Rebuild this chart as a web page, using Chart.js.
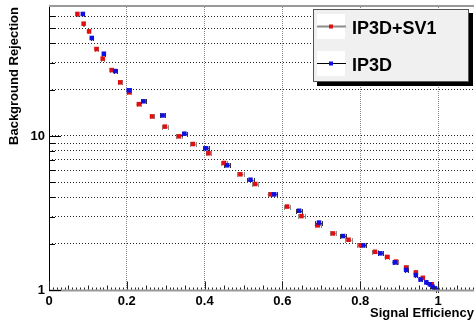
<!DOCTYPE html>
<html>
<head>
<meta charset="utf-8">
<script src="https://cdn.jsdelivr.net/npm/chart.js@4.4.1/dist/chart.umd.min.js"></script>
<style>
  html, body { margin: 0; padding: 0; background: #fff; }
</style>
</head>
<body>
<canvas id="roc" width="474" height="320"></canvas>
<script>
// IP3D+SV1 : efficacité signal / réjection du bruit de fond
const sv1Eff = [0.073, 0.089, 0.103, 0.122, 0.138, 0.161, 0.183, 0.206, 0.231, 0.265, 0.298, 0.334,
                0.370, 0.410, 0.450, 0.492, 0.530, 0.570, 0.612, 0.649, 0.691, 0.730, 0.770, 0.801,
                0.838, 0.869, 0.892, 0.918, 0.943, 0.961, 0.984, 0.998];
const sv1Rej = [62, 53.6, 47.8, 36.7, 31.8, 26.8, 22.3, 19.2, 16.1, 13.4, 11.5, 9.95,
                8.87, 7.72, 6.68, 5.64, 4.88, 4.18, 3.48, 3.02, 2.63, 2.33, 2.12, 1.95,
                1.77, 1.64, 1.53, 1.40, 1.30, 1.20, 1.09, 1.0];
const sv1EffErr = [0.002, 0.002, 0.003, 0.003, 0.004, 0.004, 0.005, 0.005, 0.006, 0.006, 0.007, 0.007,
                   0.007, 0.007, 0.008, 0.008, 0.008, 0.008, 0.008, 0.008, 0.008, 0.008, 0.008, 0.008,
                   0.007, 0.006, 0.005, 0.004, 0.003, 0.003, 0.002, 0.002];

// IP3D seul
const ip3dEff = [0.087, 0.110, 0.141, 0.170, 0.205, 0.243, 0.292, 0.348, 0.404, 0.458, 0.518, 0.579,
                 0.643, 0.694, 0.756, 0.808, 0.852, 0.889, 0.918, 0.943, 0.955, 0.970, 0.979, 0.986,
                 0.992, 0.998];
const ip3dRej = [62, 43.3, 34.2, 26.4, 19.8, 16.8, 13.6, 10.35, 8.32, 6.45, 5.20, 4.18,
                 3.27, 2.74, 2.24, 1.95, 1.73, 1.51, 1.35, 1.25, 1.17, 1.12, 1.09, 1.05,
                 1.025, 1.0];
const ip3dEffErr = [0.002, 0.003, 0.004, 0.004, 0.005, 0.006, 0.006, 0.007, 0.007, 0.008, 0.008, 0.008,
                    0.008, 0.009, 0.008, 0.008, 0.007, 0.006, 0.004, 0.003, 0.003, 0.002, 0.002, 0.002,
                    0.002, 0.002];

// Graduations
const xTickValues = [0, 0.2, 0.4, 0.6, 0.8, 1];
const yTickValues = [1, 2, 3, 4, 5, 6, 7, 8, 9, 10, 20, 30, 40, 50, 60];
const yLabelled = [1, 10];
const xMinorStep = 0.01;

const FONT = 'Liberation Sans, Arial, sans-serif';

function points(xs, ys) {
    return xs.map((x, i) => ({ x: x, y: ys[i] }));
}

// Pas de marge automatique autour des axes : le cadre est fixé à la main
function noPadding(scale) {
    scale.paddingLeft = 0;
    scale.paddingRight = 0;
    scale.paddingTop = 0;
    scale.paddingBottom = 0;
}

// Cadre façon ROOT : barres d'erreur, graduations intérieures, légende avec ombre
const rootStyle = {
    id: 'rootStyle',
    beforeDatasetsDraw(chart) {
        const { ctx, scales: { x, y } } = chart;
        ctx.save();
        chart.data.datasets.forEach(ds => {
            ctx.strokeStyle = ds.errColor;
            ctx.lineWidth = 1;
            ds.data.forEach((p, i) => {
                const err = ds.xErr[i];
                const x1 = x.getPixelForValue(p.x - err);
                const x2 = x.getPixelForValue(p.x + err);
                const py = Math.round(y.getPixelForValue(p.y)) + 0.5;
                ctx.beginPath();
                ctx.moveTo(x1, py); ctx.lineTo(x2, py);
                ctx.moveTo(Math.round(x1) + 0.5, py - 2.5); ctx.lineTo(Math.round(x1) + 0.5, py + 2.5);
                ctx.moveTo(Math.round(x2) + 0.5, py - 2.5); ctx.lineTo(Math.round(x2) + 0.5, py + 2.5);
                ctx.stroke();
            });
        });
        ctx.restore();
    },
    afterDraw(chart) {
        const { ctx, chartArea: a, scales: { x, y } } = chart;
        ctx.save();

        // axes
        ctx.strokeStyle = '#999';
        ctx.lineWidth = 2;
        ctx.beginPath();
        ctx.moveTo(a.left, a.top - 1); ctx.lineTo(a.right, a.top - 1);
        ctx.moveTo(a.left, a.bottom + 0.5); ctx.lineTo(a.right, a.bottom + 0.5);
        ctx.stroke();
        ctx.strokeStyle = '#000';
        ctx.lineWidth = 1;
        ctx.beginPath();
        ctx.moveTo(a.left + 0.5, a.top); ctx.lineTo(a.left + 0.5, a.bottom);
        ctx.stroke();

        // graduations Y (intérieures)
        ctx.beginPath();
        yTickValues.forEach(v => {
            const py = Math.round(y.getPixelForValue(v)) + 0.5;
            const len = yLabelled.includes(v) ? 12 : 6;
            ctx.moveTo(a.left, py); ctx.lineTo(a.left + len, py);
        });
        ctx.stroke();

        // graduations X (intérieures)
        ctx.strokeStyle = '#222';
        ctx.beginPath();
        const n = Math.floor(x.max / xMinorStep);
        for (let k = 0; k <= n; k++) {
            const px = Math.round(x.getPixelForValue(k * xMinorStep)) + 0.5;
            const len = k % 20 === 0 ? 8 : (k % 5 === 0 ? 4 : 2);
            ctx.moveTo(px, a.bottom - 0.5); ctx.lineTo(px, a.bottom - 0.5 - len);
        }
        ctx.stroke();

        // légende
        const lx = 313, ly = 9, lw = 156, lh = 73;
        ctx.fillStyle = '#000';
        ctx.fillRect(lx + 4, ly + 4, lw, lh);
        ctx.fillStyle = '#f0f0f0';
        ctx.fillRect(lx, ly, lw, lh);
        ctx.strokeStyle = '#555';
        ctx.lineWidth = 1;
        ctx.strokeRect(lx + 0.5, ly + 0.5, lw - 1, lh - 1);

        const rows = [17, 54];
        chart.data.datasets.forEach((ds, i) => {
            const top = ly + rows[i] - 12;
            ctx.fillStyle = '#fff';
            ctx.fillRect(lx + 4, top, 28, 25);
            const cy = top + 12.5;
            ctx.strokeStyle = ds.legendLine;
            ctx.lineWidth = ds.legendLineWidth;
            ctx.beginPath();
            ctx.moveTo(lx + 4, cy); ctx.lineTo(lx + 33, cy);
            ctx.stroke();
            ctx.fillStyle = ds.backgroundColor;
            ctx.fillRect(lx + 16, cy - 2, 4, 4);
            ctx.fillStyle = '#000';
            ctx.font = 'bold 18px ' + FONT;
            ctx.textBaseline = 'middle';
            ctx.textAlign = 'left';
            ctx.fillText(ds.label, lx + 39, cy + 3);
        });

        ctx.restore();
    }
};

new Chart(document.getElementById('roc'), {
    type: 'scatter',
    data: {
        datasets: [{
            label: 'IP3D+SV1',
            data: points(sv1Eff, sv1Rej),
            xErr: sv1EffErr,
            errColor: '#8c8c8c',
            legendLine: '#8c8c8c',
            legendLineWidth: 2,
            backgroundColor: '#e01010',
            pointStyle: 'rect',
            pointRadius: 3.2,
            borderWidth: 0,
            order: 2
        }, {
            label: 'IP3D',
            data: points(ip3dEff, ip3dRej),
            xErr: ip3dEffErr,
            errColor: '#333',
            legendLine: '#000',
            legendLineWidth: 1,
            backgroundColor: '#1010e0',
            pointStyle: 'rect',
            pointRadius: 3.2,
            borderWidth: 0,
            order: 1
        }]
    },
    options: {
        responsive: false,
        animation: false,
        devicePixelRatio: 1,
        layout: { autoPadding: false, padding: { top: 7, right: 0, bottom: 0, left: 0 } },
        plugins: {
            legend: { display: false },
            tooltip: { enabled: false }
        },
        scales: {
            x: {
                type: 'linear',
                min: 0,
                max: 1.0925,
                afterBuildTicks: scale => { scale.ticks = xTickValues.map(v => ({ value: v })); },
                afterFit: scale => { scale.height = 30; noPadding(scale); },
                grid: { color: '#888', drawTicks: false },
                border: { display: false, dash: [1, 1] },
                ticks: {
                    autoSkip: false,
                    maxRotation: 0,
                    padding: 4,
                    color: '#000',
                    font: { family: FONT, size: 13, weight: 'bold' },
                    callback: v => String(v)
                },
                title: {
                    display: true,
                    text: 'Signal Efficiency',
                    align: 'end',
                    color: '#000',
                    padding: { top: 0, bottom: -1 },
                    font: { family: FONT, size: 13, weight: 'bold' }
                }
            },
            y: {
                type: 'logarithmic',
                min: 1,
                max: 68.8,
                afterBuildTicks: scale => { scale.ticks = yTickValues.map(v => ({ value: v })); },
                afterFit: scale => { scale.width = 49; noPadding(scale); },
                grid: { color: '#222', drawTicks: false },
                border: { display: false, dash: [1, 2] },
                ticks: {
                    autoSkip: false,
                    padding: 4,
                    color: '#000',
                    font: { family: FONT, size: 13, weight: 'bold' },
                    callback: v => yLabelled.includes(v) ? String(v) : ''
                },
                title: {
                    display: true,
                    text: 'Background Rejection',
                    align: 'end',
                    color: '#000',
                    padding: { top: 7, bottom: 0 },
                    font: { family: FONT, size: 13, weight: 'bold' }
                }
            }
        }
    },
    plugins: [rootStyle]
});
</script>
</body>
</html>
